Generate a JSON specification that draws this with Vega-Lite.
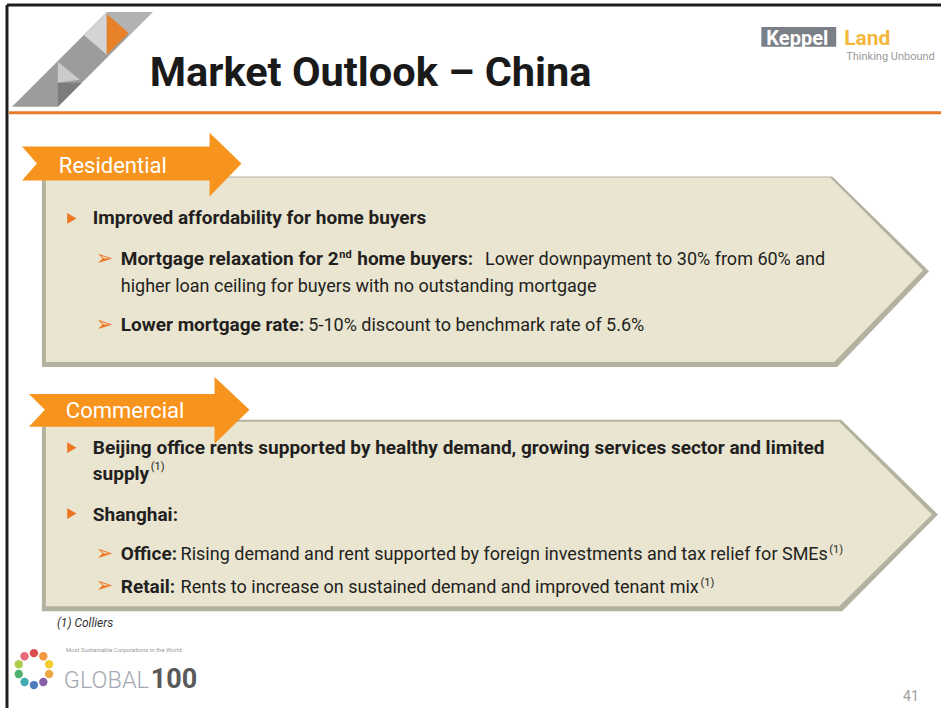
{
  "$schema": "https://vega.github.io/schema/vega-lite/v6.json",
  "width": 943,
  "height": 710,
  "padding": 0,
  "autosize": {"type": "fit", "contains": "padding"},
  "background": "#ffffff",
  "config": {"view": {"stroke": null}},
  "datasets": {
    "poly": [
      {"shape": "resShadow", "z": 1, "i": 1, "x": 42, "y": 177},
      {"shape": "resShadow", "z": 1, "i": 2, "x": 834, "y": 177},
      {"shape": "resShadow", "z": 1, "i": 3, "x": 931, "y": 272},
      {"shape": "resShadow", "z": 1, "i": 4, "x": 839, "y": 368},
      {"shape": "resShadow", "z": 1, "i": 5, "x": 42, "y": 368},
      {"shape": "comShadow", "z": 1, "i": 1, "x": 42, "y": 421},
      {"shape": "comShadow", "z": 1, "i": 2, "x": 843, "y": 421},
      {"shape": "comShadow", "z": 1, "i": 3, "x": 940, "y": 516},
      {"shape": "comShadow", "z": 1, "i": 4, "x": 844, "y": 613},
      {"shape": "comShadow", "z": 1, "i": 5, "x": 42, "y": 613},
      {"shape": "resPanel", "z": 2, "i": 1, "x": 46, "y": 178},
      {"shape": "resPanel", "z": 2, "i": 2, "x": 832, "y": 178},
      {"shape": "resPanel", "z": 2, "i": 3, "x": 925, "y": 271},
      {"shape": "resPanel", "z": 2, "i": 4, "x": 836, "y": 363},
      {"shape": "resPanel", "z": 2, "i": 5, "x": 46, "y": 363},
      {"shape": "comPanel", "z": 2, "i": 1, "x": 46, "y": 423},
      {"shape": "comPanel", "z": 2, "i": 2, "x": 841, "y": 423},
      {"shape": "comPanel", "z": 2, "i": 3, "x": 934, "y": 516},
      {"shape": "comPanel", "z": 2, "i": 4, "x": 841, "y": 608},
      {"shape": "comPanel", "z": 2, "i": 5, "x": 46, "y": 608},
      {"shape": "resArrow", "z": 3, "i": 1, "x": 22, "y": 147},
      {"shape": "resArrow", "z": 3, "i": 2, "x": 210, "y": 147},
      {"shape": "resArrow", "z": 3, "i": 3, "x": 210, "y": 133},
      {"shape": "resArrow", "z": 3, "i": 4, "x": 242, "y": 164},
      {"shape": "resArrow", "z": 3, "i": 5, "x": 210, "y": 197},
      {"shape": "resArrow", "z": 3, "i": 6, "x": 210, "y": 181},
      {"shape": "resArrow", "z": 3, "i": 7, "x": 22, "y": 181},
      {"shape": "resArrow", "z": 3, "i": 8, "x": 37, "y": 164},
      {"shape": "comArrow", "z": 3, "i": 1, "x": 29, "y": 395},
      {"shape": "comArrow", "z": 3, "i": 2, "x": 215, "y": 395},
      {"shape": "comArrow", "z": 3, "i": 3, "x": 215, "y": 378},
      {"shape": "comArrow", "z": 3, "i": 4, "x": 250, "y": 411},
      {"shape": "comArrow", "z": 3, "i": 5, "x": 215, "y": 445},
      {"shape": "comArrow", "z": 3, "i": 6, "x": 215, "y": 428},
      {"shape": "comArrow", "z": 3, "i": 7, "x": 29, "y": 428},
      {"shape": "comArrow", "z": 3, "i": 8, "x": 45, "y": 411},
      {"shape": "logoBase", "part": "logo base", "z": 4, "i": 1, "x": 12, "y": 107},
      {"shape": "logoBase", "part": "logo base", "z": 4, "i": 2, "x": 58, "y": 107},
      {"shape": "logoBase", "part": "logo base", "z": 4, "i": 3, "x": 153, "y": 12},
      {"shape": "logoBase", "part": "logo base", "z": 4, "i": 4, "x": 107, "y": 12},
      {"shape": "logoTop", "part": "logo top", "z": 4, "i": 1, "x": 107, "y": 12},
      {"shape": "logoTop", "part": "logo top", "z": 4, "i": 2, "x": 153, "y": 12},
      {"shape": "logoTop", "part": "logo top", "z": 4, "i": 3, "x": 129, "y": 36},
      {"shape": "logoTop", "part": "logo top", "z": 4, "i": 4, "x": 107, "y": 14},
      {"shape": "logoLight", "part": "logo light", "z": 4, "i": 1, "x": 84, "y": 35},
      {"shape": "logoLight", "part": "logo light", "z": 4, "i": 2, "x": 107, "y": 12},
      {"shape": "logoLight", "part": "logo light", "z": 4, "i": 3, "x": 107, "y": 55},
      {"shape": "logoOrange", "part": "logo orange", "z": 4, "i": 1, "x": 107, "y": 14},
      {"shape": "logoOrange", "part": "logo orange", "z": 4, "i": 2, "x": 129, "y": 33},
      {"shape": "logoOrange", "part": "logo orange", "z": 4, "i": 3, "x": 107, "y": 55},
      {"shape": "logoPale", "part": "logo pale", "z": 4, "i": 1, "x": 58, "y": 62},
      {"shape": "logoPale", "part": "logo pale", "z": 4, "i": 2, "x": 80, "y": 80},
      {"shape": "logoPale", "part": "logo pale", "z": 4, "i": 3, "x": 58, "y": 83},
      {"shape": "logoDark", "part": "logo dark", "z": 4, "i": 1, "x": 58, "y": 83},
      {"shape": "logoDark", "part": "logo dark", "z": 4, "i": 2, "x": 82, "y": 83},
      {"shape": "logoDark", "part": "logo dark", "z": 4, "i": 3, "x": 58, "y": 107},
      {"shape": "keppelBox", "part": "keppel box", "z": 4, "i": 1, "x": 763, "y": 27},
      {"shape": "keppelBox", "part": "keppel box", "z": 4, "i": 2, "x": 838, "y": 27},
      {"shape": "keppelBox", "part": "keppel box", "z": 4, "i": 3, "x": 838, "y": 47},
      {"shape": "keppelBox", "part": "keppel box", "z": 4, "i": 4, "x": 763, "y": 47}
    ],
    "rules": [
      {"part": "border", "x": 7, "y": 5, "x2": 943, "y2": 5},
      {"part": "border", "x": 7, "y": 5, "x2": 7, "y2": 710},
      {"part": "rule", "x": 9, "y": 113, "x2": 943, "y2": 113}
    ],
    "bullets": [
      {"x": 72, "y": 219},
      {"x": 72, "y": 449},
      {"x": 72, "y": 515}
    ],
    "ring": [
      {"c": "g1", "x": 34, "y": 655},
      {"c": "g2", "x": 43.4, "y": 658.1},
      {"c": "g3", "x": 49.2, "y": 666.1},
      {"c": "g4", "x": 49.2, "y": 675.9},
      {"c": "g5", "x": 43.4, "y": 683.9},
      {"c": "g6", "x": 34, "y": 687},
      {"c": "g7", "x": 24.6, "y": 683.9},
      {"c": "g8", "x": 18.8, "y": 675.9},
      {"c": "g9", "x": 18.8, "y": 666.1},
      {"c": "g10", "x": 24.6, "y": 658.1}
    ],
    "texts": [
      {"role": "title", "t": "Market Outlook – China", "x": 150, "y": 86},
      {"role": "label", "t": "Residential", "x": 59, "y": 173},
      {"role": "label", "t": "Commercial", "x": 66, "y": 419},
      {"role": "bold", "t": "Improved affordability for home buyers", "x": 93, "y": 225},
      {"role": "bold", "t": "Mortgage relaxation for 2", "x": 121, "y": 266},
      {"role": "supb", "t": "nd", "x": 340, "y": 259},
      {"role": "bold", "t": "home buyers:", "x": 358, "y": 266},
      {"role": "reg", "t": "Lower downpayment to 30% from 60% and", "x": 486, "y": 266},
      {"role": "reg", "t": "higher loan ceiling for buyers with no outstanding mortgage", "x": 121, "y": 293},
      {"role": "bold", "t": "Lower mortgage rate:", "x": 121, "y": 332},
      {"role": "reg", "t": "5-10% discount to benchmark rate of 5.6%", "x": 309, "y": 332},
      {"role": "bold", "t": "Beijing office rents supported by healthy demand, growing services sector and limited", "x": 93, "y": 455},
      {"role": "bold", "t": "supply", "x": 93, "y": 481},
      {"role": "sup", "t": "(1)", "x": 151, "y": 471},
      {"role": "bold", "t": "Shanghai:", "x": 93, "y": 522},
      {"role": "bold", "t": "Office:", "x": 121, "y": 562},
      {"role": "reg", "t": "Rising demand and rent supported by foreign investments and tax relief for SMEs", "x": 181, "y": 562},
      {"role": "sup", "t": "(1)", "x": 831, "y": 555},
      {"role": "bold", "t": "Retail:", "x": 121, "y": 595},
      {"role": "reg", "t": "Rents to increase on sustained demand and improved tenant mix", "x": 181, "y": 595},
      {"role": "sup", "t": "(1)", "x": 702, "y": 588},
      {"role": "arrowb", "t": "➢", "x": 96, "y": 266},
      {"role": "arrowb", "t": "➢", "x": 96, "y": 332},
      {"role": "arrowb", "t": "➢", "x": 96, "y": 562},
      {"role": "arrowb", "t": "➢", "x": 96, "y": 594},
      {"role": "foot", "t": "(1) Colliers", "x": 57, "y": 629},
      {"role": "page", "t": "41", "x": 905, "y": 703},
      {"role": "keppel", "t": "Keppel", "x": 768, "y": 45},
      {"role": "land", "t": "Land", "x": 846, "y": 45},
      {"role": "tag", "t": "Thinking Unbound", "x": 848, "y": 60},
      {"role": "global", "t": "GLOBAL", "x": 64, "y": 690},
      {"role": "hundred", "t": "100", "x": 151, "y": 690},
      {"role": "tiny", "t": "Most Sustainable Corporations in the World", "x": 66, "y": 654}
    ]
  },
  "encoding": {
    "x": {"field": "x", "type": "quantitative", "scale": {"domain": [0, 943], "nice": false, "zero": false}, "axis": null},
    "y": {"field": "y", "type": "quantitative", "scale": {"domain": [0, 710], "reverse": true, "nice": false, "zero": false}, "axis": null}
  },
  "resolve": {"scale": {"color": "independent"}},
  "layer": [
    {
      "data": {"name": "poly"},
      "transform": [{"filter": "datum.z == 1"}],
      "mark": {"type": "line", "filled": true, "color": "#B3B1A0", "interpolate": "linear"},
      "encoding": {"detail": {"field": "shape"}, "order": {"field": "i", "type": "quantitative"}}
    },
    {
      "data": {"name": "poly"},
      "transform": [{"filter": "datum.z == 2"}],
      "mark": {"type": "line", "filled": true, "color": "#E9E5D0", "interpolate": "linear"},
      "encoding": {"detail": {"field": "shape"}, "order": {"field": "i", "type": "quantitative"}}
    },
    {
      "data": {"name": "poly"},
      "transform": [{"filter": "datum.z == 3"}],
      "mark": {"type": "line", "filled": true, "color": "#F7941D", "interpolate": "linear"},
      "encoding": {"detail": {"field": "shape"}, "order": {"field": "i", "type": "quantitative"}}
    },
    {
      "data": {"name": "poly"},
      "transform": [{"filter": "datum.z == 4"}],
      "mark": {"type": "line", "filled": true, "interpolate": "linear"},
      "encoding": {
        "detail": {"field": "shape"},
        "order": {"field": "i", "type": "quantitative"},
        "color": {
          "field": "part", "type": "nominal", "legend": null,
          "scale": {
            "domain": ["logo base", "logo top", "logo light", "logo orange", "logo pale", "logo dark", "keppel box"],
            "range": ["#9C9C9C", "#B2B2B2", "#D4D4D4", "#E8822A", "#CACACA", "#7C7C7C", "#7B7F88"]
          }
        }
      }
    },
    {
      "data": {"name": "rules"},
      "transform": [{"filter": "datum.part == 'border'"}],
      "mark": {"type": "rule", "color": "#1E1E1E", "strokeWidth": 3},
      "encoding": {"x2": {"field": "x2"}, "y2": {"field": "y2"}}
    },
    {
      "data": {"name": "rules"},
      "transform": [{"filter": "datum.part == 'rule'"}],
      "mark": {"type": "rule", "color": "#E8792B", "strokeWidth": 3},
      "encoding": {"x2": {"field": "x2"}, "y2": {"field": "y2"}}
    },
    {
      "data": {"name": "bullets"},
      "mark": {"type": "point", "shape": "triangle-right", "filled": true, "color": "#EE7623", "size": 115, "opacity": 1},
      "encoding": {}
    },
    {
      "data": {"name": "ring"},
      "mark": {"type": "point", "shape": "circle", "filled": true, "size": 70, "opacity": 0.9},
      "encoding": {
        "color": {
          "field": "c", "type": "nominal", "legend": null,
          "scale": {
            "domain": ["g1", "g2", "g3", "g4", "g5", "g6", "g7", "g8", "g9", "g10"],
            "range": ["#D8383A", "#F28C28", "#F5C518", "#E8A030", "#7A4A9E", "#3A6FB5", "#2BA3A8", "#3BAA5C", "#A6C83A", "#E85A6A"]
          }
        }
      }
    },
    {
      "data": {"name": "texts"},
      "transform": [{"filter": "datum.role == 'title'"}],
      "mark": {"type": "text", "align": "left", "baseline": "alphabetic", "font": "Roboto", "fontWeight": "bold", "fontSize": 41.5, "color": "#1A1A1A"},
      "encoding": {"text": {"field": "t"}}
    },
    {
      "data": {"name": "texts"},
      "transform": [{"filter": "datum.role == 'label'"}],
      "mark": {"type": "text", "align": "left", "baseline": "alphabetic", "font": "Roboto", "fontSize": 22, "color": "#FFFFFF"},
      "encoding": {"text": {"field": "t"}}
    },
    {
      "data": {"name": "texts"},
      "transform": [{"filter": "datum.role == 'bold'"}],
      "mark": {"type": "text", "align": "left", "baseline": "alphabetic", "font": "Roboto", "fontWeight": "bold", "fontSize": 19, "color": "#231F20"},
      "encoding": {"text": {"field": "t"}}
    },
    {
      "data": {"name": "texts"},
      "transform": [{"filter": "datum.role == 'reg'"}],
      "mark": {"type": "text", "align": "left", "baseline": "alphabetic", "font": "Roboto", "fontSize": 18, "color": "#231F20"},
      "encoding": {"text": {"field": "t"}}
    },
    {
      "data": {"name": "texts"},
      "transform": [{"filter": "datum.role == 'supb'"}],
      "mark": {"type": "text", "align": "left", "baseline": "alphabetic", "font": "Roboto", "fontWeight": "bold", "fontSize": 11, "color": "#231F20"},
      "encoding": {"text": {"field": "t"}}
    },
    {
      "data": {"name": "texts"},
      "transform": [{"filter": "datum.role == 'sup'"}],
      "mark": {"type": "text", "align": "left", "baseline": "alphabetic", "font": "Roboto", "fontSize": 11, "color": "#231F20"},
      "encoding": {"text": {"field": "t"}}
    },
    {
      "data": {"name": "texts"},
      "transform": [{"filter": "datum.role == 'arrowb'"}],
      "mark": {"type": "text", "align": "left", "baseline": "alphabetic", "font": "DejaVu Sans", "fontSize": 21, "color": "#EE7623"},
      "encoding": {"text": {"field": "t"}}
    },
    {
      "data": {"name": "texts"},
      "transform": [{"filter": "datum.role == 'foot'"}],
      "mark": {"type": "text", "align": "left", "baseline": "alphabetic", "font": "Roboto", "fontStyle": "italic", "fontSize": 12, "color": "#333333"},
      "encoding": {"text": {"field": "t"}}
    },
    {
      "data": {"name": "texts"},
      "transform": [{"filter": "datum.role == 'page'"}],
      "mark": {"type": "text", "align": "left", "baseline": "alphabetic", "font": "Roboto", "fontSize": 14, "color": "#A0A0A0"},
      "encoding": {"text": {"field": "t"}}
    },
    {
      "data": {"name": "texts"},
      "transform": [{"filter": "datum.role == 'keppel'"}],
      "mark": {"type": "text", "align": "left", "baseline": "alphabetic", "font": "Roboto", "fontWeight": "bold", "fontSize": 20, "color": "#FFFFFF"},
      "encoding": {"text": {"field": "t"}}
    },
    {
      "data": {"name": "texts"},
      "transform": [{"filter": "datum.role == 'land'"}],
      "mark": {"type": "text", "align": "left", "baseline": "alphabetic", "font": "Roboto", "fontWeight": "bold", "fontSize": 21, "color": "#F3B73B"},
      "encoding": {"text": {"field": "t"}}
    },
    {
      "data": {"name": "texts"},
      "transform": [{"filter": "datum.role == 'tag'"}],
      "mark": {"type": "text", "align": "left", "baseline": "alphabetic", "font": "Roboto", "fontSize": 11, "color": "#9A9A9A"},
      "encoding": {"text": {"field": "t"}}
    },
    {
      "data": {"name": "texts"},
      "transform": [{"filter": "datum.role == 'global'"}],
      "mark": {"type": "text", "align": "left", "baseline": "alphabetic", "font": "Roboto", "fontWeight": 300, "fontSize": 23.5, "color": "#A3A8B3"},
      "encoding": {"text": {"field": "t"}}
    },
    {
      "data": {"name": "texts"},
      "transform": [{"filter": "datum.role == 'hundred'"}],
      "mark": {"type": "text", "align": "left", "baseline": "alphabetic", "font": "Roboto", "fontWeight": "bold", "fontSize": 27, "color": "#5A5A5A"},
      "encoding": {"text": {"field": "t"}}
    },
    {
      "data": {"name": "texts"},
      "transform": [{"filter": "datum.role == 'tiny'"}],
      "mark": {"type": "text", "align": "left", "baseline": "alphabetic", "font": "Roboto", "fontSize": 6, "color": "#9A9A9A"},
      "encoding": {"text": {"field": "t"}}
    }
  ]
}
